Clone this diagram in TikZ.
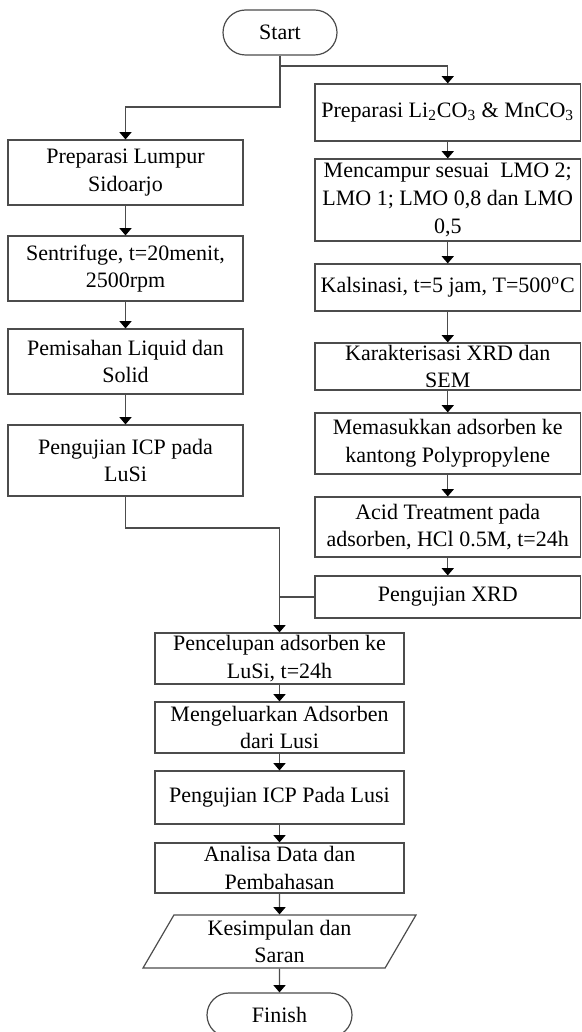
\documentclass[tikz,border=0pt]{standalone}
\usepackage{fontspec}
\setmainfont{Liberation Serif}
\usetikzlibrary{arrows.meta,shapes.misc,shapes.geometric}
\begin{document}
\begin{tikzpicture}[x=0.5pt,y=-0.5pt]
\tikzstyle{box}=[draw=black!70,line width=0.6pt,rectangle,align=center,inner sep=0pt,font=\fontsize{11}{13.8}\selectfont]
\tikzstyle{term}=[box,rounded rectangle]
\tikzstyle{io}=[box,trapezium,trapezium left angle=64,trapezium right angle=116,trapezium stretches=true]
\tikzstyle{edge}=[draw=black!70,line width=0.6pt,-{Triangle[width=6pt,length=3.6pt,black]}]
\tikzstyle{line}=[draw=black!70,line width=0.6pt]
\useasboundingbox (0,0) rectangle (582,1032);
    % start
    \node[term,minimum width=57pt,minimum height=22.5pt] (1) at (280,32.5) {Start};
    % kolom kanan
    \node[box,minimum width=132.75pt,minimum height=28.5pt] (2) at (447.75,112.5) {Preparasi Li\textsubscript{2}CO\textsubscript{3} \& MnCO\textsubscript{3}};
    \node[box,minimum width=132.75pt,minimum height=41pt] (3) at (447.75,200) {Mencampur sesuai\ \ LMO 2;\\LMO 1; LMO 0,8 dan LMO\\0,5};
    \node[box,minimum width=132.75pt,minimum height=23.5pt] (4) at (447.75,287.5) {Kalsinasi, t=5 jam, T=500\textsuperscript{o}C};
    \node[box,minimum width=132.75pt,minimum height=23.5pt] (5) at (447.75,366.5) {Karakterisasi XRD dan\\SEM};
    \node[box,minimum width=132.75pt,minimum height=30.5pt] (6) at (447.75,443.5) {Memasukkan adsorben ke\\kantong Polypropylene};
    \node[box,minimum width=132.75pt,minimum height=30pt] (7) at (447.75,527) {Acid Treatment pada\\adsorben, HCl 0.5M, t=24h};
    \node[box,minimum width=132.75pt,minimum height=21pt] (8) at (447.75,597) {Pengujian XRD};
    % kolom kiri
    \node[box,minimum width=117.5pt,minimum height=32.5pt] (9) at (125.5,172.5) {Preparasi Lumpur\\Sidoarjo};
    \node[box,minimum width=117.5pt,minimum height=32.5pt] (10) at (125.5,268.5) {Sentrifuge, t=20menit,\\2500rpm};
    \node[box,minimum width=117.5pt,minimum height=32.5pt] (11) at (125.5,361.5) {Pemisahan Liquid dan\\Solid};
    \node[box,minimum width=117.5pt,minimum height=35.5pt] (12) at (125.5,460.5) {Pengujian ICP pada\\LuSi};
    % kolom bawah
    \node[box,minimum width=124.5pt,minimum height=25.5pt] (13) at (279.5,658.5) {Pencelupan adsorben ke\\LuSi, t=24h};
    \node[box,minimum width=124.5pt,minimum height=25.5pt] (14) at (279.5,727.5) {Mengeluarkan Adsorben\\dari Lusi};
    \node[box,minimum width=124.5pt,minimum height=26.5pt] (15) at (279.5,797.5) {Pengujian ICP Pada Lusi};
    \node[box,minimum width=124.5pt,minimum height=25pt] (16) at (279.5,868) {Analisa Data dan\\Pembahasan};
    \node[io,minimum width=137.5pt,minimum height=26.5pt] (17) at (279.5,941.5) {Kesimpulan dan\\Saran};
    \node[term,minimum width=72.5pt,minimum height=22pt] (18) at (279.5,1015) {Finish};
    % percabangan
    \coordinate (c1) at (280,107);
    \coordinate (c2) at (447.75,66);
    \coordinate (c3) at (125.5,528);
    \draw[edge] (1.south) -- (c1) -| (9.north);
    \draw[edge] (1.south |- c2) -- (c2) -- (2.north);
    \path (2) edge [edge] (3);
    \path (3) edge [edge] (4);
    \path (4) edge [edge] (5);
    \path (5) edge [edge] (6);
    \path (6) edge [edge] (7);
    \path (7) edge [edge] (8);
    \path (9) edge [edge] (10);
    \path (10) edge [edge] (11);
    \path (11) edge [edge] (12);
    \draw[edge] (12.south) -- (c3) -| (13.north);
    \draw[line] (8.west) -- (8.west -| 13.north);
    \path (13) edge [edge] (14);
    \path (14) edge [edge] (15);
    \path (15) edge [edge] (16);
    \path (16) edge [edge] (17);
    \path (17) edge [edge] (18);
\end{tikzpicture}
\end{document}
